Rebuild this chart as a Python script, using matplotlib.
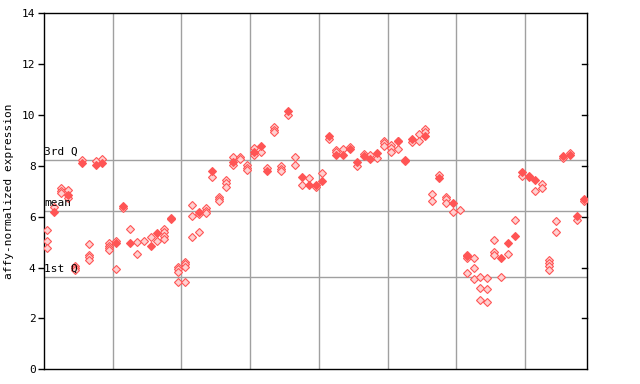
import matplotlib
matplotlib.use("Agg")
import matplotlib.pyplot as plt

# replicate values per sample (hollow diamonds)
hollow_vals = [
    [5.48, 5.06, 4.77], [6.40], [7.12, 7.03, 6.93], [7.05, 6.72], [4.08, 4.00, 3.91],
    [8.23], [4.92, 4.50, 4.40, 4.30], [8.20], [8.27], [4.95, 4.86, 4.77, 4.68],
    [5.05, 3.93], [6.33], [5.52], [4.99, 4.52], [5.03],
    [5.22], [5.03], [5.52, 5.39, 5.26, 5.11], [5.96], [4.04, 3.93, 3.84, 3.45],
    [4.23, 4.13, 4.04, 3.45], [6.45, 6.02, 5.19], [6.09, 5.39], [6.33, 6.24, 6.15], [7.55],
    [6.79, 6.70, 6.61], [7.43, 7.34, 7.16], [8.34, 8.05], [8.36, 8.27], [8.02, 7.93, 7.84],
    [8.72, 8.44], [8.53], [7.92], [9.52, 9.42, 9.33], [7.98, 7.89, 7.80],
    [9.99], [8.36, 8.02], [7.23], [7.51], [7.18],
    [7.71], [9.04], [8.62, 8.53], [8.66], [8.75],
    [8.01], [8.48], [8.44], [8.30], [8.98, 8.89, 8.79],
    [8.82, 8.72, 8.56], [8.99, 8.66], [8.20], [8.94], [9.24, 8.99],
    [9.44, 9.33], [6.91, 6.62], [7.63], [6.79, 6.70, 6.53], [6.17],
    [6.25], [4.50, 4.37, 3.77], [4.37, 3.97, 3.54], [3.62, 3.18, 2.71], [3.58, 3.15, 2.63],
    [5.07, 4.61, 4.48], [3.62], [4.52], [5.86], [7.61],
    [7.58], [7.01], [7.27, 7.12], [4.28, 4.17, 4.08, 3.89], [5.82, 5.39],
    [8.30], [8.52], [5.87], [6.62],
]

# highlighted value per sample (filled diamonds), None = not shown
filled_vals = [
    None, 6.17, None, 6.85, None, 8.10, None, 8.03, 8.10, None,
    4.95, 6.42, 4.98, None, None, 4.86, 5.37, None, 5.90, None,
    None, None, 6.19, None, 7.81, None, None, 8.14, None, None,
    8.53, 8.79, 7.78, None, None, 10.17, None, 7.57, 7.26, 7.26,
    7.42, 9.19, 8.44, 8.44, 8.68, 8.17, 8.39, 8.27, 8.49, None,
    None, 8.96, 8.22, 9.06, None, 9.17, None, 7.54, None, 6.54,
    None, 4.46, None, None, None, None, 4.39, 4.98, 5.26, 7.77,
    7.61, 7.46, None, None, None, 8.39, 8.41, 6.04, 6.71,
]

q1, mean_val, q3 = 3.62, 6.22, 8.22
y_ticks = [0, 2, 4, 6, 8, 10, 12, 14]

red = "#ff5555"
mono = "DejaVu Sans Mono"

fig = plt.figure(figsize=(6.4, 3.84), dpi=100)
ax = fig.add_axes([44 / 640, 14.7 / 384, 543 / 640, 356 / 384])

n = len(hollow_vals)
for b in range(10, n, 10):
    ax.axvline(b - 0.5, color="#a0a0a0", lw=1, zorder=1)
for v in (q1, mean_val, q3):
    ax.axhline(v, color="#a0a0a0", lw=1, zorder=1)

hx, hy = [], []
for i, vals in enumerate(hollow_vals):
    for v in vals:
        hx.append(i)
        hy.append(v)
ax.plot(hx, hy, "D", ms=3.6, mfc="#ffd0d0", mec=red, mew=0.8, zorder=3)

fx = [i for i, v in enumerate(filled_vals) if v is not None]
fy = [v for v in filled_vals if v is not None]
ax.plot(fx, fy, "D", ms=4.0, mfc=red, mec=red, mew=0.8, zorder=4)

ax.set_xlim(-0.5, n - 0.5)
ax.set_ylim(0, 14)
ax.set_xticks([])
ax.set_yticks(y_ticks)
ax.set_yticklabels([str(t) for t in y_ticks], fontsize=8, family=mono)
ax.tick_params(axis="y", direction="out", length=4, width=1, pad=2)
for s in ax.spines.values():
    s.set_color("black")
    s.set_linewidth(1)

# inward ticks on the right side
for t in y_ticks[1:-1]:
    ax.plot([n - 0.5 - 0.7, n - 0.5], [t, t], color="black", lw=1, clip_on=False, zorder=5)

ax.set_ylabel("affy-normalized expression", fontsize=8, family=mono, labelpad=6)

for lab, v in (("3rd Q", q3), ("mean", mean_val), ("1st Q", q1)):
    ax.text(-0.5, v + 0.12, lab, fontsize=8, family=mono, va="bottom", ha="left", zorder=6)

fig.savefig("out.png", dpi=100)
